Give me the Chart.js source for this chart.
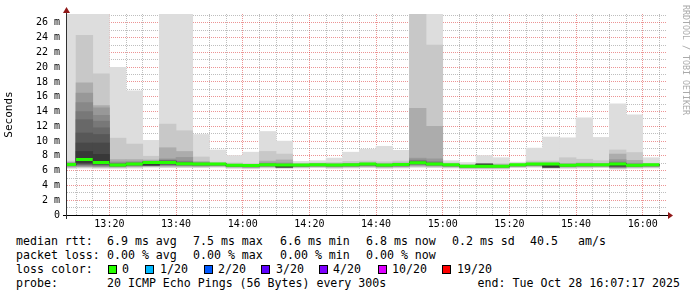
<!DOCTYPE html>
<html>
<head>
<meta charset="utf-8">
<script src="https://cdn.jsdelivr.net/npm/chart.js@4/dist/chart.umd.min.js"></script>
<style>
html,body{margin:0;padding:0;background:#fff;}
#wrap{position:relative;width:697px;height:297px;overflow:hidden;background:#fff;font-family:'DejaVu Sans Mono',monospace;}
#c{position:absolute;left:0;top:0;width:697px;height:232px;}
.t{position:absolute;font-size:11.6px;line-height:14px;white-space:pre;color:#000;}
.box{position:absolute;width:9px;height:9px;box-sizing:border-box;border:1px solid #000;}
#wm{position:absolute;left:681px;top:5px;writing-mode:vertical-rl;font-size:8.3px;line-height:10px;color:#aaaaaa;white-space:pre;}
</style>
</head>
<body>
<div id="wrap">
<canvas id="c" width="697" height="232"></canvas>
<div id="legend"></div>
<div id="wm">RRDTOOL / TOBI OETIKER</div>
</div>
<script>
// ================= DATA =================
const windowStart = '13:07:17';
const windowEnd = '16:07:17';
const slotMinutes = 5;
const slotStart = ['13:05','13:10','13:15','13:20','13:25','13:30','13:35','13:40','13:45','13:50','13:55',
  '14:00','14:05','14:10','14:15','14:20','14:25','14:30','14:35','14:40','14:45','14:50','14:55',
  '15:00','15:05','15:10','15:15','15:20','15:25','15:30','15:35','15:40','15:45','15:50','15:55','16:00'];
// median RTT per slot (ms)
const medianRtt = [6.85,7.5,7.1,6.75,6.9,7.1,7.12,6.93,6.9,6.9,6.72,
  6.7,6.8,6.76,6.76,6.8,6.76,6.8,6.9,6.76,6.85,7.07,6.9,
  6.8,6.6,6.6,6.6,6.8,6.9,6.9,6.72,6.8,6.8,6.9,6.72,6.8];
// sorted pings, upper half: ping20 .. ping11 (ms)
const pingsHigh = [
  [29,7.3,7.15,7.05,7.0,6.97,6.94,6.92,6.9,6.88],
  [29,24.3,17.9,16.5,15.2,14.0,12.9,11.1,9.75,8.6],
  [29,19.1,14.8,14.5,13.5,12.7,11.8,10.9,9.75,8.2],
  [20.0,10.4,7.5,7.2,7.05,6.95,6.9,6.85,6.82,6.8],
  [16.8,9.6,7.5,7.25,7.1,7.05,7.0,6.97,6.95,6.93],
  [10.1,7.95,7.45,7.3,7.25,7.2,7.17,7.15,7.13,7.11],
  [29,12.3,9.1,7.6,7.45,7.38,7.32,7.27,7.22,7.18],
  [29,11.4,8.6,7.8,7.3,7.2,7.1,7.05,7.0,6.97],
  [10.9,7.85,7.25,7.12,7.05,7.0,6.97,6.95,6.93,6.92],
  [8.8,7.15,7.02,6.98,6.96,6.94,6.93,6.92,6.91,6.9],
  [8.05,7.05,6.88,6.82,6.79,6.77,6.75,6.74,6.73,6.72],
  [8.5,6.95,6.82,6.77,6.74,6.72,6.71,6.7,6.7,6.7],
  [11.3,8.6,7.3,7.05,6.95,6.9,6.86,6.84,6.82,6.81],
  [10.0,8.25,7.45,7.05,6.92,6.86,6.82,6.8,6.78,6.77],
  [7.25,7.0,6.9,6.86,6.83,6.81,6.8,6.79,6.78,6.77],
  [7.35,7.05,6.95,6.9,6.87,6.85,6.84,6.83,6.82,6.81],
  [7.7,7.1,6.95,6.88,6.84,6.82,6.8,6.79,6.78,6.77],
  [8.5,7.25,7.0,6.92,6.88,6.85,6.83,6.82,6.81,6.8],
  [8.9,7.3,7.05,6.98,6.95,6.93,6.92,6.91,6.9,6.9],
  [9.3,7.2,6.95,6.88,6.84,6.81,6.79,6.78,6.77,6.76],
  [8.75,7.3,7.05,6.97,6.93,6.9,6.88,6.87,6.86,6.85],
  [30,29,14.45,7.7,7.45,7.35,7.25,7.18,7.12,7.08],
  [29,23.0,12.0,7.6,7.25,7.1,7.02,6.97,6.93,6.91],
  [7.35,7.05,6.92,6.87,6.84,6.83,6.82,6.81,6.81,6.8],
  [7.1,6.85,6.75,6.7,6.67,6.65,6.63,6.62,6.61,6.6],
  [8.05,7.0,6.92,6.9,6.89,6.88,6.88,6.87,6.87,6.87],
  [7.75,6.95,6.8,6.75,6.72,6.7,6.68,6.66,6.64,6.62],
  [7.15,6.95,6.88,6.85,6.83,6.82,6.81,6.8,6.8,6.8],
  [9.05,7.3,7.05,6.98,6.95,6.93,6.92,6.91,6.9,6.9],
  [10.55,7.3,7.05,6.98,6.95,6.93,6.92,6.91,6.9,6.9],
  [10.45,7.75,7.0,6.85,6.8,6.78,6.76,6.75,6.74,6.73],
  [13.15,7.55,7.05,6.92,6.87,6.85,6.83,6.82,6.81,6.8],
  [10.5,7.35,6.98,6.9,6.86,6.84,6.83,6.82,6.81,6.8],
  [15.05,8.8,8.25,7.5,7.2,7.05,7.0,6.96,6.93,6.91],
  [13.55,8.45,7.4,7.0,6.88,6.82,6.78,6.76,6.74,6.73],
  [7.75,7.0,6.9,6.86,6.84,6.83,6.82,6.81,6.8,6.8]
];
// sorted pings, lower half: ping1 .. ping10 (ms)
const pingsLow = [
  [6.3,6.4,6.5,6.6,6.65,6.7,6.74,6.77,6.8,6.82],
  [6.35,6.45,6.55,6.62,6.7,6.78,6.85,6.92,7.0,7.1],
  [6.3,6.4,6.5,6.58,6.65,6.72,6.8,6.86,6.92,6.98],
  [6.3,6.4,6.48,6.55,6.6,6.64,6.67,6.7,6.72,6.73],
  [6.35,6.45,6.55,6.62,6.68,6.73,6.78,6.82,6.85,6.87],
  [6.45,6.55,6.62,6.66,6.7,6.72,6.74,6.75,6.76,6.78],
  [6.4,6.5,6.6,6.68,6.75,6.8,6.85,6.9,6.95,7.0],
  [6.4,6.5,6.6,6.66,6.72,6.77,6.8,6.83,6.86,6.88],
  [6.4,6.5,6.58,6.64,6.7,6.74,6.78,6.82,6.85,6.87],
  [6.45,6.55,6.62,6.68,6.72,6.76,6.8,6.83,6.86,6.88],
  [6.3,6.4,6.48,6.54,6.58,6.62,6.65,6.68,6.7,6.71],
  [6.25,6.35,6.42,6.48,6.52,6.56,6.6,6.63,6.66,6.68],
  [6.35,6.45,6.52,6.58,6.63,6.67,6.71,6.74,6.77,6.79],
  [6.3,6.38,6.42,6.45,6.47,6.48,6.49,6.5,6.51,6.52],
  [6.35,6.45,6.5,6.55,6.6,6.63,6.66,6.69,6.72,6.75],
  [6.4,6.48,6.55,6.6,6.65,6.69,6.72,6.75,6.77,6.79],
  [6.3,6.4,6.48,6.54,6.6,6.64,6.68,6.71,6.73,6.75],
  [6.35,6.45,6.52,6.58,6.63,6.67,6.7,6.73,6.76,6.78],
  [6.4,6.5,6.58,6.64,6.7,6.74,6.78,6.82,6.85,6.88],
  [6.3,6.4,6.48,6.54,6.6,6.64,6.68,6.71,6.73,6.75],
  [6.35,6.45,6.52,6.58,6.64,6.69,6.73,6.77,6.8,6.83],
  [6.45,6.55,6.65,6.75,6.82,6.88,6.94,6.98,7.02,7.05],
  [6.4,6.5,6.6,6.66,6.72,6.77,6.81,6.84,6.87,6.89],
  [6.35,6.45,6.52,6.58,6.63,6.67,6.71,6.74,6.77,6.79],
  [6.2,6.3,6.38,6.44,6.48,6.52,6.55,6.57,6.59,6.6],
  [6.2,6.3,6.38,6.44,6.48,6.52,6.55,6.57,6.58,6.59],
  [6.2,6.3,6.38,6.44,6.48,6.52,6.55,6.57,6.59,6.6],
  [6.4,6.48,6.55,6.6,6.65,6.69,6.72,6.75,6.77,6.79],
  [6.45,6.55,6.62,6.68,6.73,6.77,6.8,6.83,6.86,6.88],
  [6.3,6.38,6.42,6.45,6.47,6.48,6.49,6.5,6.5,6.5],
  [6.3,6.4,6.48,6.54,6.58,6.62,6.65,6.68,6.7,6.71],
  [6.35,6.45,6.52,6.58,6.63,6.67,6.71,6.74,6.77,6.79],
  [6.4,6.48,6.55,6.6,6.65,6.69,6.72,6.75,6.77,6.79],
  [6.2,6.3,6.38,6.44,6.48,6.52,6.56,6.6,6.64,6.68],
  [6.3,6.4,6.48,6.54,6.58,6.62,6.65,6.68,6.7,6.71],
  [6.35,6.45,6.52,6.58,6.63,6.67,6.71,6.74,6.77,6.79]
];
const xTickLabels = ['13:20','13:40','14:00','14:20','14:40','15:00','15:20','15:40','16:00'];
const yTickLabels = ['0','2 m','4 m','6 m','8 m','10 m','12 m','14 m','16 m','18 m','20 m','22 m','24 m','26 m'];
const yAxisMax = 27.2;
const yAxisTitle = 'Seconds';
const rttLabel = 'median rtt:';
const rttStats = ['6.9 ms avg','7.5 ms max','6.6 ms min','6.8 ms now','0.2 ms sd','40.5','am/s'];
const lossLabel = 'packet loss:';
const lossStats = ['0.00 % avg','0.00 % max','0.00 % min','0.00 % now'];
const colorLabel = 'loss color:';
const lossLabels = ['0','1/20','2/20','3/20','4/20','10/20','19/20'];
const lossColors = ['#26ff00','#00b8ff','#0059ff','#5e00ff','#7e00ff','#dd00ff','#ff0000'];
const probeLabel = 'probe:';
const probeText = '20 ICMP Echo Pings (56 Bytes) every 300s';
const endText = 'end: Tue Oct 28 16:07:17 2025';

// ================= STYLE / LAYOUT =================
const bandColors = ['#dddddd','#c8c8c8','#acacac','#989898','#888888','#787878','#686868','#585858','#484848','#383838'];
const medianColor = lossColors[0];
const majorGrid = 'rgba(210,0,0,0.42)';
const minorGrid = 'rgba(110,110,110,0.45)';
const axisFont = {family: "'DejaVu Sans Mono', monospace", size: 10};
const layout = {
  rows: [241, 255, 269, 283],
  labelX: 16,
  statX: [107, 193, 280, 366, 452, 530, 578],
  boxX: [108, 145, 204, 261, 319, 378, 442],
  boxLabelX: [122, 160, 218, 276, 333, 392, 457],
  endRight: 17
};

function toMin(s) {
  const p = s.split(':').map(Number);
  return p[0] * 60 + p[1] + (p[2] || 0) / 60;
}

// ================= CHART =================
const centers = slotStart.map(s => toMin(s) + slotMinutes / 2);
const datasets = bandColors.map((col, k) => ({
  type: 'bar',
  label: 'smoke ' + (k + 1),
  stack: 'smoke',
  order: 20 - k,
  data: centers.map((x, i) => ({x: x, y: [pingsLow[i][k], pingsHigh[i][k]]})),
  backgroundColor: col,
  borderWidth: 0,
  barPercentage: 1,
  categoryPercentage: 1,
  clip: 0
}));
const medData = [];
slotStart.forEach((s, i) => {
  const a = toMin(s);
  medData.push({x: a, y: medianRtt[i]}, {x: a + slotMinutes, y: medianRtt[i]}, {x: a + slotMinutes, y: null});
});
datasets.push({
  type: 'line', label: 'median', order: 0, data: medData,
  borderColor: medianColor, borderWidth: 3, pointRadius: 0, tension: 0,
  spanGaps: false, clip: 0, borderCapStyle: 'butt'
});

const axesPlugin = {
  id: 'rrdAxes',
  afterDraw(chart) {
    const {ctx, chartArea: a} = chart;
    ctx.save();
    ctx.lineWidth = 1;
    ctx.strokeStyle = '#000';
    ctx.beginPath();
    ctx.moveTo(a.left - 4, a.bottom + 0.5);
    ctx.lineTo(a.right + 1, a.bottom + 0.5);
    ctx.stroke();
    ctx.strokeStyle = '#303030';
    ctx.beginPath();
    ctx.moveTo(a.left - 0.5, a.top - 4);
    ctx.lineTo(a.left - 0.5, a.bottom + 4);
    ctx.stroke();
    ctx.fillStyle = '#901818';
    ctx.beginPath();
    ctx.moveTo(a.left - 0.5, a.top - 7);
    ctx.lineTo(a.left - 4, a.top - 1);
    ctx.lineTo(a.left + 3, a.top - 1);
    ctx.closePath();
    ctx.fill();
    ctx.beginPath();
    ctx.moveTo(a.right + 6, a.bottom + 0.5);
    ctx.lineTo(a.right + 1, a.bottom - 3);
    ctx.lineTo(a.right + 1, a.bottom + 4);
    ctx.closePath();
    ctx.fill();
    ctx.restore();
  }
};

new Chart(document.getElementById('c'), {
  type: 'bar',
  data: {datasets: datasets},
  plugins: [axesPlugin],
  options: {
    responsive: false,
    animation: false,
    devicePixelRatio: 1,
    events: [],
    layout: {padding: {left: 0, right: 30, top: 14, bottom: 0}},
    plugins: {legend: {display: false}, tooltip: {enabled: false}},
    scales: {
      x: {
        type: 'linear',
        min: toMin(windowStart),
        max: toMin(windowEnd),
        offset: false,
        z: 1,
        afterBuildTicks: s => {
          const t = [];
          for (let v = Math.ceil(s.min / slotMinutes) * slotMinutes; v <= s.max; v += slotMinutes) t.push({value: v});
          s.ticks = t;
        },
        afterFit: s => { s.height = 17; },
        ticks: {
          autoSkip: false, maxRotation: 0, minRotation: 0, padding: 3,
          color: '#000', font: axisFont,
          callback: v => {
            const l = xTickLabels.find(l => Math.abs(toMin(l) - v) < 0.01);
            return l || '';
          }
        },
        grid: {
          offset: false, drawTicks: false, lineWidth: 1,
          color: c => (c.tick && xTickLabels.some(l => Math.abs(toMin(l) - c.tick.value) < 0.01)) ? majorGrid : minorGrid
        },
        border: {display: false, dash: [1, 1]}
      },
      y: {
        type: 'linear',
        min: 0,
        max: yAxisMax,
        stacked: false,
        z: 1,
        afterBuildTicks: s => {
          const t = [];
          for (let v = 0; v <= Math.floor(s.max); v++) t.push({value: v});
          s.ticks = t;
        },
        afterFit: s => { s.width = 67; },
        ticks: {
          autoSkip: false, padding: 7, color: '#000', font: axisFont,
          callback: v => (v % 2 === 0 && yTickLabels[v / 2] !== undefined) ? yTickLabels[v / 2] : ''
        },
        grid: {
          drawTicks: false, lineWidth: 1,
          color: c => (c.tick && c.tick.value % 2 === 0) ? majorGrid : minorGrid
        },
        border: {display: false, dash: [1, 1]},
        title: {
          display: true, text: yAxisTitle, color: '#000',
          font: {family: "'DejaVu Sans Mono', monospace", size: 11},
          padding: {top: 3, bottom: 0}
        }
      }
    }
  }
});

// ================= LEGEND (HTML text) =================
const legend = document.getElementById('legend');
function addText(txt, x, rowY, right) {
  const d = document.createElement('div');
  d.className = 't';
  d.textContent = txt;
  d.style.top = (rowY - 7) + 'px';
  if (right !== undefined) d.style.right = right + 'px'; else d.style.left = x + 'px';
  legend.appendChild(d);
}
const R = layout.rows;
addText(rttLabel, layout.labelX, R[0]);
rttStats.forEach((s, i) => addText(s, layout.statX[i], R[0]));
addText(lossLabel, layout.labelX, R[1]);
lossStats.forEach((s, i) => addText(s, layout.statX[i], R[1]));
addText(colorLabel, layout.labelX, R[2]);
lossLabels.forEach((s, i) => {
  const b = document.createElement('div');
  b.className = 'box';
  b.style.left = layout.boxX[i] + 'px';
  b.style.top = (R[2] - 4.5) + 'px';
  b.style.background = lossColors[i];
  legend.appendChild(b);
  addText(s, layout.boxLabelX[i], R[2]);
});
addText(probeLabel, layout.labelX, R[3]);
addText(probeText, layout.statX[0], R[3]);
addText(endText, 0, R[3], layout.endRight);
</script>
</body>
</html>
